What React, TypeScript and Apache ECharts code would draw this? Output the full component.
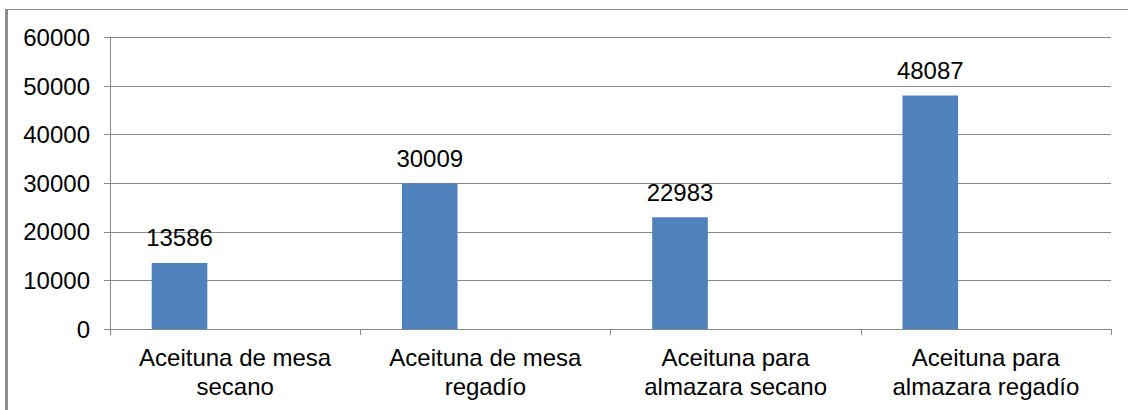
import React, { useEffect, useRef } from "react";
import * as echarts from "echarts";

const categories = [
  "Aceituna de mesa\nsecano",
  "Aceituna de mesa\nregadío",
  "Aceituna para\nalmazara secano",
  "Aceituna para\nalmazara regadío",
];
const superficie = [13586, 30009, 22983, 48087];
const emptySeriesA = [null, null, null, null];
const emptySeriesB = [null, null, null, null];
const yMin = 0;
const yMax = 60000;
const yInterval = 10000;

const FONT = "'Liberation Sans', Arial, sans-serif";
const GRAY = "#878787";

export default function App() {
  const ref = useRef<HTMLDivElement>(null);

  useEffect(() => {
    if (!ref.current) return;
    const chart = echarts.init(ref.current, undefined, { renderer: "svg" });
    chart.setOption({
      animation: false,
      backgroundColor: "#ffffff",
      grid: { left: 110, right: 17, top: 37.5, bottom: 81, containLabel: false },
      graphic: [
        { type: "rect", shape: { x: 5, y: 9, width: 3, height: 401 }, style: { fill: "#8c8c8c" } },
        { type: "rect", shape: { x: 5, y: 9, width: 1123, height: 1 }, style: { fill: "#8c8c8c" } },
      ],
      xAxis: {
        type: "category",
        data: categories,
        axisLine: { show: true, lineStyle: { color: GRAY, width: 1 } },
        axisTick: { show: true, length: 6, alignWithLabel: false, lineStyle: { color: GRAY } },
        axisLabel: {
          color: "#000",
          fontFamily: FONT,
          fontSize: 24,
          lineHeight: 29,
          margin: 14,
          interval: 0,
        },
        splitLine: { show: false },
      },
      yAxis: {
        type: "value",
        min: yMin,
        max: yMax,
        interval: yInterval,
        axisLine: { show: true, lineStyle: { color: GRAY, width: 1 } },
        axisTick: { show: true, length: 6, lineStyle: { color: GRAY } },
        axisLabel: {
          color: "#000",
          fontFamily: FONT,
          fontSize: 24,
          margin: 20,
          formatter: (v: number) => String(v),
        },
        splitLine: { show: true, lineStyle: { color: GRAY, width: 1 } },
      },
      series: [
        {
          type: "bar",
          data: superficie,
          barGap: 0,
          barCategoryGap: "33.33%",
          itemStyle: { color: "#4F81BD" },
          label: {
            show: true,
            position: "top",
            distance: 13,
            color: "#000",
            fontFamily: FONT,
            fontSize: 24,
          },
        },
        { type: "bar", data: emptySeriesA, barGap: 0, barCategoryGap: "33.33%", itemStyle: { color: "#C0504D" } },
        { type: "bar", data: emptySeriesB, barGap: 0, barCategoryGap: "33.33%", itemStyle: { color: "#9BBB59" } },
      ],
    });
    return () => chart.dispose();
  }, []);

  return (
    <div
      ref={ref}
      style={{ position: "absolute", left: 0, top: 0, width: 1128, height: 410 }}
    />
  );
}
